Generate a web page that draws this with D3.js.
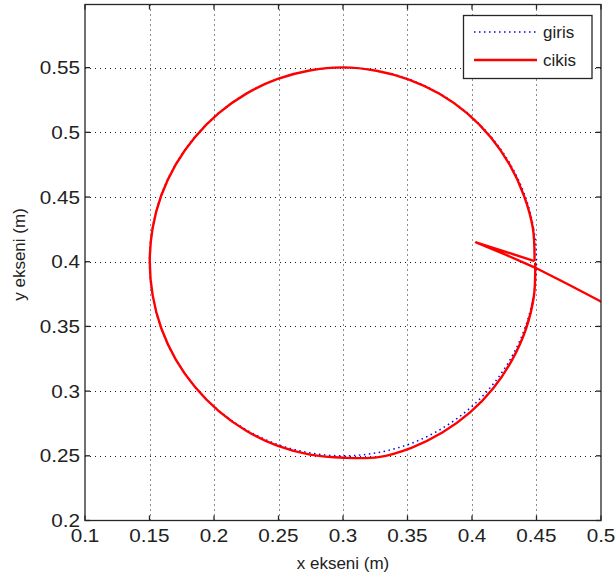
<!DOCTYPE html>
<html>
<head>
<meta charset="utf-8">
<script src="https://cdn.jsdelivr.net/npm/d3@7"></script>
<style>
  html, body { margin: 0; padding: 0; background: #fff; }
  svg { display: block; }
  text { font-family: "Liberation Sans", Arial, sans-serif; fill: #222; }
</style>
</head>
<body>
<svg id="chart" width="616" height="581"></svg>
<script>
// Axis tick values and their printed labels
const xTicks = [0.1, 0.15, 0.2, 0.25, 0.3, 0.35, 0.4, 0.45, 0.5];
const xTickLabels = ["0.1", "0.15", "0.2", "0.25", "0.3", "0.35", "0.4", "0.45", "0.5"];
const yTicks = [0.2, 0.25, 0.3, 0.35, 0.4, 0.45, 0.5, 0.55];
const yTickLabels = ["0.2", "0.25", "0.3", "0.35", "0.4", "0.45", "0.5", "0.55"];

// Reference path "giris" (x, y in metres)
const girisX = [0.4500, 0.4477, 0.4410, 0.4299, 0.4149, 0.3964, 0.3750, 0.3513, 0.3260,
                0.3000, 0.2740, 0.2487, 0.2250, 0.2036, 0.1851, 0.1701, 0.1590, 0.1523,
                0.1500, 0.1523, 0.1590, 0.1701, 0.1851, 0.2036, 0.2250, 0.2487, 0.2740,
                0.3000, 0.3260, 0.3513, 0.3750, 0.3964, 0.4149, 0.4299, 0.4410, 0.4477];
const girisY = [0.4000, 0.4260, 0.4513, 0.4750, 0.4964, 0.5149, 0.5299, 0.5410, 0.5477,
                0.5500, 0.5477, 0.5410, 0.5299, 0.5149, 0.4964, 0.4750, 0.4513, 0.4260,
                0.4000, 0.3740, 0.3487, 0.3250, 0.3036, 0.2851, 0.2701, 0.2590, 0.2523,
                0.2500, 0.2523, 0.2590, 0.2701, 0.2851, 0.3036, 0.3250, 0.3487, 0.3740];

// Tracked path "cikis": approach from the right, turn, then one lap
const cikisApproachX = [0.5200, 0.4992, 0.4740, 0.4488, 0.4260, 0.4031, 0.4250, 0.4485];
const cikisApproachY = [0.3594, 0.3696, 0.3828, 0.3955, 0.4055, 0.4149, 0.4080, 0.4005];
const cikisLapX = [0.4485, 0.4472, 0.4403, 0.4293, 0.4145, 0.3961, 0.3748, 0.3511, 0.3259,
                   0.3000, 0.2741, 0.2488, 0.2251, 0.2037, 0.1852, 0.1702, 0.1591, 0.1524,
                   0.1502, 0.1525, 0.1592, 0.1703, 0.1853, 0.2037, 0.2250, 0.2490, 0.2745,
                   0.3010, 0.3275, 0.3530, 0.3770, 0.3985, 0.4165, 0.4310, 0.4418, 0.4480, 0.4490];
const cikisLapY = [0.4005, 0.4258, 0.4510, 0.4748, 0.4962, 0.5148, 0.5298, 0.5408, 0.5476,
                   0.5502, 0.5478, 0.5411, 0.5299, 0.5148, 0.4962, 0.4749, 0.4512, 0.4259,
                   0.3999, 0.3738, 0.3484, 0.3246, 0.3032, 0.2846, 0.2694, 0.2578, 0.2509,
                   0.2485, 0.2490, 0.2562, 0.2680, 0.2835, 0.3022, 0.3240, 0.3480, 0.3735, 0.3990];

const legendNames = ["giris", "cikis"];

const svg = d3.select("#chart");
const plot = { left: 85, right: 601, top: 4.5, bottom: 520.5 };

const x = d3.scaleLinear().domain([0.1, 0.5]).range([plot.left, plot.right]);
const y = d3.scaleLinear().domain([0.2, 0.5988]).range([plot.bottom, plot.top]);

svg.append("defs").append("clipPath").attr("id", "plotClip")
  .append("rect")
  .attr("x", plot.left).attr("y", plot.top)
  .attr("width", plot.right - plot.left).attr("height", plot.bottom - plot.top);

// Dotted grid
const grid = svg.append("g").attr("stroke", "#1a1a1a").attr("stroke-width", 1)
  .attr("stroke-dasharray", "1,4");
grid.selectAll(".gx").data(xTicks.slice(1, -1)).join("line")
  .attr("x1", d => Math.round(x(d)) + 0.5).attr("x2", d => Math.round(x(d)) + 0.5)
  .attr("y1", plot.top).attr("y2", plot.bottom);
grid.selectAll(".gy").data(yTicks.slice(1)).join("line")
  .attr("y1", d => Math.round(y(d)) + 0.5).attr("y2", d => Math.round(y(d)) + 0.5)
  .attr("x1", plot.left).attr("x2", plot.right);

// Data lines
const data = svg.append("g").attr("clip-path", "url(#plotClip)");
const girisPts = girisX.map((v, i) => [v, girisY[i]]);
const approachPts = cikisApproachX.map((v, i) => [v, cikisApproachY[i]]);
const lapPts = cikisLapX.map((v, i) => [v, cikisLapY[i]]);

data.append("path")
  .attr("d", d3.line().x(d => x(d[0])).y(d => y(d[1])).curve(d3.curveCatmullRomClosed.alpha(0.5))(girisPts))
  .attr("fill", "none").attr("stroke", "#0000ff").attr("stroke-width", 1.5)
  .attr("stroke-dasharray", "1.5,3.5");

const redLine = d3.line().x(d => x(d[0])).y(d => y(d[1]));
data.append("path")
  .attr("d", redLine.curve(d3.curveLinear)(approachPts))
  .attr("fill", "none").attr("stroke", "#ff0000").attr("stroke-width", 2.4)
  .attr("stroke-linejoin", "round");
data.append("path")
  .attr("d", redLine.curve(d3.curveCatmullRom.alpha(0.5))(lapPts))
  .attr("fill", "none").attr("stroke", "#ff0000").attr("stroke-width", 2.4)
  .attr("stroke-linejoin", "round");

// Axes box with inward ticks
const axes = svg.append("g");
axes.append("rect")
  .attr("x", plot.left).attr("y", plot.top)
  .attr("width", plot.right - plot.left).attr("height", plot.bottom - plot.top)
  .attr("fill", "none").attr("stroke", "#262626").attr("stroke-width", 1.3);

const tickLen = 5;
const ticks = axes.append("g").attr("stroke", "#262626").attr("stroke-width", 1.3);
xTicks.forEach(t => {
  const px = x(t);
  ticks.append("line").attr("x1", px).attr("x2", px).attr("y1", plot.bottom).attr("y2", plot.bottom - tickLen);
  ticks.append("line").attr("x1", px).attr("x2", px).attr("y1", plot.top).attr("y2", plot.top + tickLen);
});
yTicks.forEach(t => {
  const py = y(t);
  ticks.append("line").attr("y1", py).attr("y2", py).attr("x1", plot.left).attr("x2", plot.left + tickLen);
  ticks.append("line").attr("y1", py).attr("y2", py).attr("x1", plot.right).attr("x2", plot.right - tickLen);
});

// Tick labels
const labelSize = 18, stretch = 1.15;
axes.selectAll(".xl").data(xTicks).join("text")
  .attr("transform", d => `translate(${x(d)},542) scale(${stretch},1)`)
  .attr("text-anchor", "middle").attr("font-size", labelSize)
  .text((d, i) => xTickLabels[i]);
axes.selectAll(".yl").data(yTicks).join("text")
  .attr("transform", d => `translate(80,${y(d) + 6.5}) scale(${stretch},1)`)
  .attr("text-anchor", "end").attr("font-size", labelSize)
  .text((d, i) => yTickLabels[i]);

// Axis titles
svg.append("text")
  .attr("x", (plot.left + plot.right) / 2).attr("y", 569)
  .attr("text-anchor", "middle").attr("font-size", 17)
  .text("x ekseni (m)");
svg.append("text")
  .attr("transform", `translate(25,${(plot.top + plot.bottom) / 2 - 8}) rotate(-90)`)
  .attr("text-anchor", "middle").attr("font-size", 17)
  .text("y ekseni (m)");

// Legend
const lg = svg.append("g");
lg.append("rect").attr("x", 463.5).attr("y", 15.5).attr("width", 128.5).attr("height", 63)
  .attr("fill", "#fff").attr("stroke", "#262626").attr("stroke-width", 1.3);
lg.append("line").attr("x1", 474).attr("x2", 537).attr("y1", 32).attr("y2", 32)
  .attr("stroke", "#0000ff").attr("stroke-width", 1.5).attr("stroke-dasharray", "1.5,3.5");
lg.append("line").attr("x1", 474).attr("x2", 537).attr("y1", 60).attr("y2", 60)
  .attr("stroke", "#ff0000").attr("stroke-width", 2.4);
lg.selectAll(".lt").data(legendNames).join("text")
  .attr("x", 543).attr("y", (d, i) => 38 + i * 28)
  .attr("font-size", 17)
  .text(d => d);
</script>
</body>
</html>
